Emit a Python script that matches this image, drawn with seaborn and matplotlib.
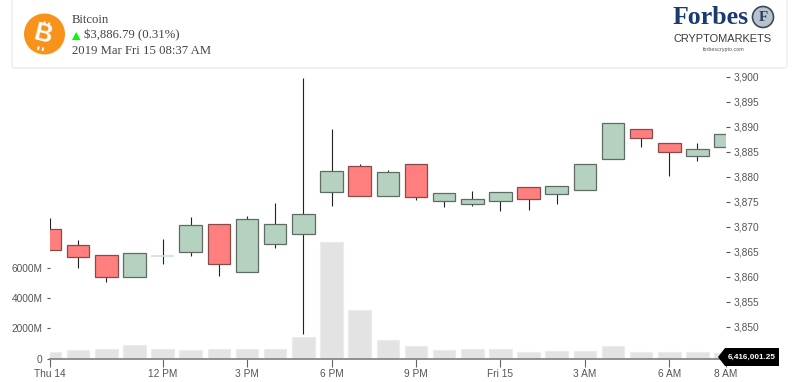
import matplotlib
matplotlib.use("Agg")
import matplotlib.pyplot as plt
import matplotlib.patches as mpatches
import seaborn as sns
import pandas as pd

# Hourly candles
hours = list(range(25))
open_price = [3869.6, 3866.3, 3864.3, 3859.9, 3864.2, 3864.9, 3870.5, 3860.9, 3866.5, 3868.5,
              3876.9, 3882.1, 3876.1, 3882.5, 3875.1, 3874.5, 3875.1, 3878.0, 3876.6, 3877.4,
              3883.5, 3889.5, 3886.8, 3884.1, 3886.0]
close_price = [3865.4, 3863.9, 3859.9, 3864.7, 3864.2, 3870.3, 3862.6, 3871.5, 3870.5, 3872.6,
               3881.1, 3876.1, 3881.0, 3876.0, 3876.8, 3875.5, 3876.9, 3875.5, 3878.1, 3882.5,
               3890.7, 3887.8, 3884.9, 3885.5, 3888.5]
high_price = [3871.7, 3867.3, 3864.3, 3864.7, 3867.6, 3872.0, 3870.5, 3872.1, 3874.8, 3899.7,
              3889.5, 3882.5, 3881.3, 3882.5, 3876.8, 3877.1, 3876.9, 3878.0, 3878.1, 3882.5,
              3890.7, 3889.5, 3886.8, 3886.7, 3888.5]
low_price = [3865.4, 3861.8, 3858.9, 3859.9, 3862.6, 3864.1, 3860.1, 3860.9, 3865.7, 3848.5,
             3874.1, 3876.1, 3876.1, 3875.4, 3873.9, 3874.2, 3873.2, 3873.3, 3874.6, 3877.4,
             3883.5, 3885.9, 3880.1, 3883.2, 3886.0]
volume = [447, 559, 625, 888, 671, 559, 671, 671, 671, 1434,
          7685, 3237, 1217, 822, 559, 625, 671, 428, 493, 493,
          822, 428, 428, 447, 400]

x_ticks = [0, 4, 7, 10, 13, 16, 19, 22, 24]
x_labels = ["Thu 14", "12 PM", "3 PM", "6 PM", "9 PM", "Fri 15", "3 AM", "6 AM", "8 AM"]
volume_ticks = [0, 2000, 4000, 6000]
volume_labels = ["0", "2000M", "4000M", "6000M"]
price_ticks = [3845, 3850, 3855, 3860, 3865, 3870, 3875, 3880, 3885, 3890, 3895, 3900]

sns.set_style("white")
plt.rcParams["font.family"] = ["Liberation Sans", "DejaVu Sans"]

UP = "#B5D1BF"
DOWN = "#FF7F7F"
TEXT = "#555555"

W, H = 800, 382
fig = plt.figure(figsize=(W / 100, H / 100), dpi=100)
ax = fig.add_axes([50 / W, 1 - 358.7 / H, 675.6 / W, 282 / H])

# Volume bars on the left scale
df = pd.DataFrame({"hour": hours, "volume": volume})
sns.barplot(data=df, x="hour", y="volume", color="#E3E3E3", saturation=1, width=0.8,
            edgecolor="#EBEBEB", linewidth=0.8, ax=ax)
ax.set_xlim(0, 24)
ax.set_ylim(0, 18556)
ax.set_xlabel("")
ax.set_ylabel("")
ax.set_xticks(x_ticks, x_labels)
ax.set_yticks(volume_ticks, volume_labels)
ax.tick_params(axis="x", length=5.5, width=0.8, color="#666666", labelcolor=TEXT, labelsize=7.3, pad=2.2, bottom=True)
ax.tick_params(axis="y", length=2.5, width=0.8, color="#555555", labelcolor=TEXT, labelsize=7.3, pad=3, left=True)
for spine in ["top", "left", "right"]:
    ax.spines[spine].set_visible(False)
ax.spines["bottom"].set_color("#888888")
ax.spines["bottom"].set_linewidth(1.3)

# Candles on the right scale
ax2 = ax.twinx()
ax2.set_ylim(3843.6, 3900)
ax2.set_yticks(price_ticks, [f"{p:,}" for p in price_ticks])
ax2.tick_params(axis="y", length=3, width=0.8, color="#555555", labelcolor=TEXT, labelsize=7.3, pad=3, right=True)
for spine in ax2.spines.values():
    spine.set_visible(False)

ax2.vlines(hours, low_price, high_price, color="#222222", linewidth=0.8, zorder=2)
for h, o, c in zip(hours, open_price, close_price):
    if o == c:
        # flat candle is only a pale dash
        ax2.hlines(o, h - 0.4, h + 0.4, color="#CFE2D6", linewidth=1.2, zorder=3)
        continue
    colour = UP if c > o else DOWN
    ax2.bar(h, abs(c - o), bottom=min(o, c), width=0.8, color=colour,
            edgecolor="#5F6B64" if c > o else "#8A4A4A", linewidth=0.9, zorder=3)

# Overlay in pixel units for the header card and the price tag
over = fig.add_axes([0, 0, 1, 1], zorder=10)
over.set_xlim(0, W)
over.set_ylim(H, 0)
over.axis("off")

over.add_patch(mpatches.FancyBboxPatch((12, -10), 775, 78, boxstyle="round,pad=0,rounding_size=3",
                                       facecolor="white", edgecolor="#EFEFEF", linewidth=1.2))
over.add_patch(mpatches.Circle((44.5, 34), 20.5, facecolor="#F7931A", edgecolor="none"))
over.text(43, 34.5, "B", color="white", fontsize=18, fontweight="bold", rotation=-14,
          ha="center", va="center", family="Liberation Sans")
# the little strokes of the bitcoin sign
for x0, y0, x1, y1 in [(44, 25, 44.8, 21.5), (48.5, 26, 49.3, 22.5), (38.8, 46.5, 38, 50), (43.3, 47.5, 42.5, 51)]:
    over.plot([x0, x1], [y0, y1], color="white", linewidth=1.4, solid_capstyle="butt")

serif = "Liberation Serif"
over.text(72, 20, "Bitcoin", fontsize=9.2, color="#444444", family=serif, va="center")
over.text(83.5, 35.5, "$3,886.79 (0.31%)", fontsize=9.2, color="#444444", family=serif, va="center")
over.text(72, 51, "2019 Mar Fri 15 08:37 AM", fontsize=9.2, color="#444444", family=serif, va="center")
over.add_patch(mpatches.Polygon([(72, 40), (80.5, 40), (76.2, 32)], facecolor="#00FF00", edgecolor="none"))

# Forbes logo
over.text(673, 18, "Forbes", fontsize=18.6, fontweight="bold", color="#1B3A72", family=serif, va="center")
over.add_patch(mpatches.Circle((763, 17), 10.5, facecolor="#B9C3CC", edgecolor="#3C4A5C", linewidth=1.2))
over.text(763, 17.5, "F", fontsize=11, fontweight="bold", color="#2A3F66", family=serif, ha="center", va="center")
over.text(722.5, 38.5, "CRYPTOMARKETS", fontsize=7.9, color="#3A3A3A", ha="center", va="center")
over.text(723.5, 49, "forbescrypto.com", fontsize=3.9, color="#555555", ha="center", va="center")

# Last volume tag
over.add_patch(mpatches.Polygon([(718, 357), (725, 348), (779, 348), (779, 366), (725, 366)],
                                facecolor="black", edgecolor="none"))
over.text(752, 357.5, "6,416,001.25", fontsize=5.9, color="white", fontweight="bold", ha="center", va="center")

fig.savefig("out.png", dpi=100)
